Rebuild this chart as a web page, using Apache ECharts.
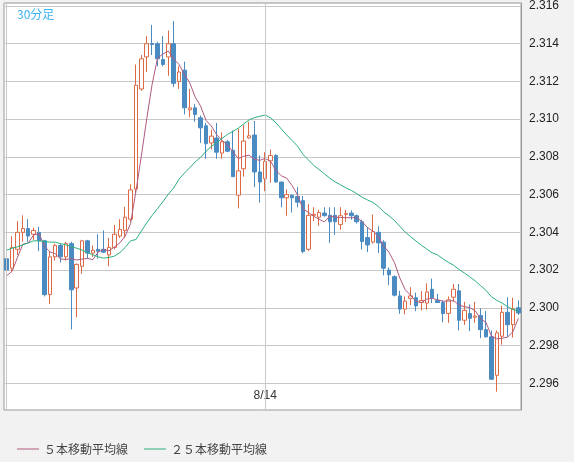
<!DOCTYPE html>
<html><head><meta charset="utf-8">
<script src="https://cdn.jsdelivr.net/npm/echarts@6/dist/echarts.min.js"></script>
<style>html,body{margin:0;padding:0;background:#f2f2f2}#c{width:574px;height:462px}</style>
</head><body><div id="c"></div>
<script>
var xLabels = [];
for (var i = 0; i < 96; i++) { xLabels.push(i === 48 ? '8/14' : (i < 48 ? '8/13 ' : '8/14 ') + (i % 48)); }
var tickLabelIndex = 48;
var opens = [2.3026,2.3021,2.3031,2.3040,2.3042,2.3039,2.3040,2.30355,2.3007,2.3027,2.3033,2.3027,2.3034,2.30105,2.3022,2.30355,2.3029,2.3031,2.3031,2.3028,2.3032,2.3038,2.3041,2.3047,2.3063,2.3116,2.3133,2.3140,2.3140,2.31316,2.3133,2.3140,2.3120,2.3126,2.3105,2.3106,2.31007,2.30965,2.30874,2.3090,2.3082,2.3088,2.30835,2.30597,2.30737,2.3090,2.30916,2.3072,2.30684,
2.30779,2.30807,2.30667,2.30583,2.30596,2.3059,2.30568,2.3031,2.3049,2.3048,2.30502,2.3049,2.3049,2.30442,2.30495,2.30502,2.30488,2.30456,2.30372,2.30348,2.3040,2.30348,2.3020,2.30165,2.30063,2.29993,2.3005,2.30053,2.30028,2.30025,2.30098,2.30039,2.30028,2.2997,2.30056,2.3009,2.29934,2.29969,2.2995,2.29959,2.29884,2.29846,2.29642,2.29849,2.29976,2.2991,2.3000];
var closes = [2.3020,2.3032,2.3040,2.3042,2.3038,2.3041,2.30355,2.3007,2.3027,2.3033,2.3027,2.3034,2.30095,2.3023,2.30355,2.3029,2.30305,2.3030,2.30295,2.3032,2.3039,2.30415,2.3048,2.30625,2.3118,2.3132,2.3140,2.31396,2.3132,2.3129,2.3140,2.3119,2.3125,2.3106,2.3106,2.31025,2.30954,2.3087,2.3091,2.30825,2.3088,2.3083,2.30695,2.30726,2.30884,2.30912,2.3072,2.30667,2.30776,
2.30807,2.30667,2.30583,2.3060,2.30583,2.3056,2.30298,2.3049,2.30495,2.30505,2.30488,2.30456,2.30456,2.30488,2.30499,2.30488,2.30456,2.30351,2.30333,2.30404,2.30344,2.3021,2.30175,2.30067,2.29993,2.30035,2.30063,2.3001,2.30039,2.30084,2.30053,2.30028,2.29969,2.30042,2.30098,2.29934,2.29986,2.29944,2.29956,2.29884,2.29846,2.29621,2.29867,2.29976,2.2991,2.29994,2.29972];
var highs = [2.3030,2.3038,2.3046,2.3049,2.3047,2.30425,2.3043,2.3036,2.3030,2.3034,2.3034,2.3035,2.3035,2.30235,2.3036,2.3036,2.3033,2.3039,2.3041,2.3037,2.3044,2.3047,2.30535,2.30655,2.3129,2.3134,2.3144,2.3150,2.3141,2.3144,2.3147,2.3152,2.3128,2.31305,2.3116,2.3108,2.3102,2.3098,2.30944,2.3098,2.3093,2.3089,2.3094,2.3095,2.3097,2.30986,2.3099,2.30807,2.30825,
2.30839,2.30814,2.30667,2.30628,2.3060,2.3064,2.30593,2.3055,2.30533,2.3052,2.30533,2.30533,2.30533,2.30533,2.30519,2.30516,2.30495,2.30467,2.30428,2.30495,2.30432,2.30358,2.30214,2.30172,2.3009,2.3006,2.30109,2.3008,2.30088,2.3013,2.30155,2.30074,2.30039,2.3006,2.30126,2.30126,2.30032,2.30018,2.30032,2.29997,2.29983,2.2988,2.2988,2.3001,2.30056,2.30053,2.30039];
var lows = [2.30088,2.3019,2.3028,2.3035,2.3035,2.3036,2.3030,2.3006,2.3002,2.3025,2.3024,2.3025,2.29885,2.2995,2.3018,2.3026,2.3027,2.3026,2.3029,2.3022,2.3031,2.3037,2.3037,2.30456,2.3061,2.3115,2.3125,2.3134,2.3128,2.3128,2.3123,2.3117,2.3116,2.31025,2.3101,2.30986,2.30874,2.3079,2.3084,2.3079,2.3079,2.30825,2.30695,2.30527,2.30695,2.30895,2.3064,2.30558,2.30618,
2.30663,2.30663,2.30533,2.30488,2.30505,2.30533,2.3029,2.3030,2.3046,2.30435,2.30484,2.30344,2.30386,2.30414,2.30456,2.30467,2.30446,2.30309,2.30295,2.3034,2.3029,2.30172,2.3012,2.3006,2.29968,2.29965,2.30014,2.29982,2.29986,2.2999,2.30025,2.30025,2.29923,2.2992,2.30032,2.2988,2.29909,2.29876,2.2992,2.29839,2.29842,2.2962,2.29555,2.29804,2.29846,2.29842,2.29962];
var ma25Head = [2.30306,2.30316,2.30323,2.30334,2.30344,2.30355,2.30355,2.30351,2.30348,2.30348,2.3034,2.30334,2.30323,2.30316,2.30306,2.30292,2.30281,2.3027,2.30263,2.30267,2.30274,2.30292,2.3032,2.30355];
var ma5Head = [2.3017,2.30193,2.30267,2.30337];

function ma(n, head) {
  var out = [];
  for (var i = 0; i < closes.length; i++) {
    if (i < head.length) { out.push(head[i]); continue; }
    var s = 0; for (var j = i - n + 1; j <= i; j++) s += closes[j];
    out.push(+(s / n).toFixed(6));
  }
  return out;
}
var kData = opens.map(function (o, i) { return [o, closes[i], lows[i], highs[i]]; });

var chart = echarts.init(document.getElementById('c'));
chart.setOption({
  animation: false,
  backgroundColor: '#f2f2f2',
  title: { text: '30分足', left: 12, top: 3, textStyle: { color: '#3cb4f0', fontSize: 12, fontWeight: 'normal', fontFamily: 'Noto Sans CJK JP' } },
  legend: {
    left: 12, top: 438, itemWidth: 22, itemHeight: 1, itemGap: 16, icon: 'rect',
    textStyle: { color: '#444', fontSize: 12, fontFamily: 'Noto Sans CJK JP' },
    data: ['５本移動平均線', '２５本移動平均線']
  },
  grid: { left: 4, right: 53, top: 0, bottom: 52, show: true, backgroundColor: '#fff', borderColor: '#999', borderWidth: 1 },
  xAxis: {
    type: 'category', data: xLabels, boundaryGap: true,
    axisLine: { show: false }, axisTick: { show: false }, splitLine: { show: false },
    axisLabel: { inside: true, interval: function (i) { return i === tickLabelIndex; }, color: '#333', fontSize: 12, margin: 8, fontFamily: 'Liberation Sans' }
  },
  yAxis: {
    type: 'value', position: 'right', min: 2.29458, max: 2.31616, splitNumber: 10, scale: true,
    axisLine: { show: true, lineStyle: { color: '#999' } }, axisTick: { show: false },
    axisLabel: { showMinLabel: false, showMaxLabel: false, color: '#222', fontSize: 12, margin: 8, fontFamily: 'Liberation Sans', formatter: function (v) { return v.toFixed(3); } },
    splitLine: { lineStyle: { color: '#c8c8c8' } }
  },
  series: [
    {
      type: 'candlestick', name: 'k', data: kData, barWidth: 4,
      itemStyle: { color: '#ffffff', color0: '#4a8bc2', borderColor: '#dd6a45', borderColor0: '#4a8bc2', borderWidth: 1 },
      markLine: { silent: true, symbol: 'none', label: { show: false }, lineStyle: { color: '#c8c8c8', type: 'solid', width: 1 },
        data: [{ xAxis: 0 }, { xAxis: tickLabelIndex }] }
    },
    { type: 'line', name: '５本移動平均線', data: ma(5, ma5Head), showSymbol: false, lineStyle: { color: '#b05a80', width: 1 }, itemStyle: { color: '#b05a80' } },
    { type: 'line', name: '２５本移動平均線', data: ma(25, ma25Head), showSymbol: false, lineStyle: { color: '#2bb07a', width: 1 }, itemStyle: { color: '#2bb07a' } }
  ]
});
</script></body></html>
